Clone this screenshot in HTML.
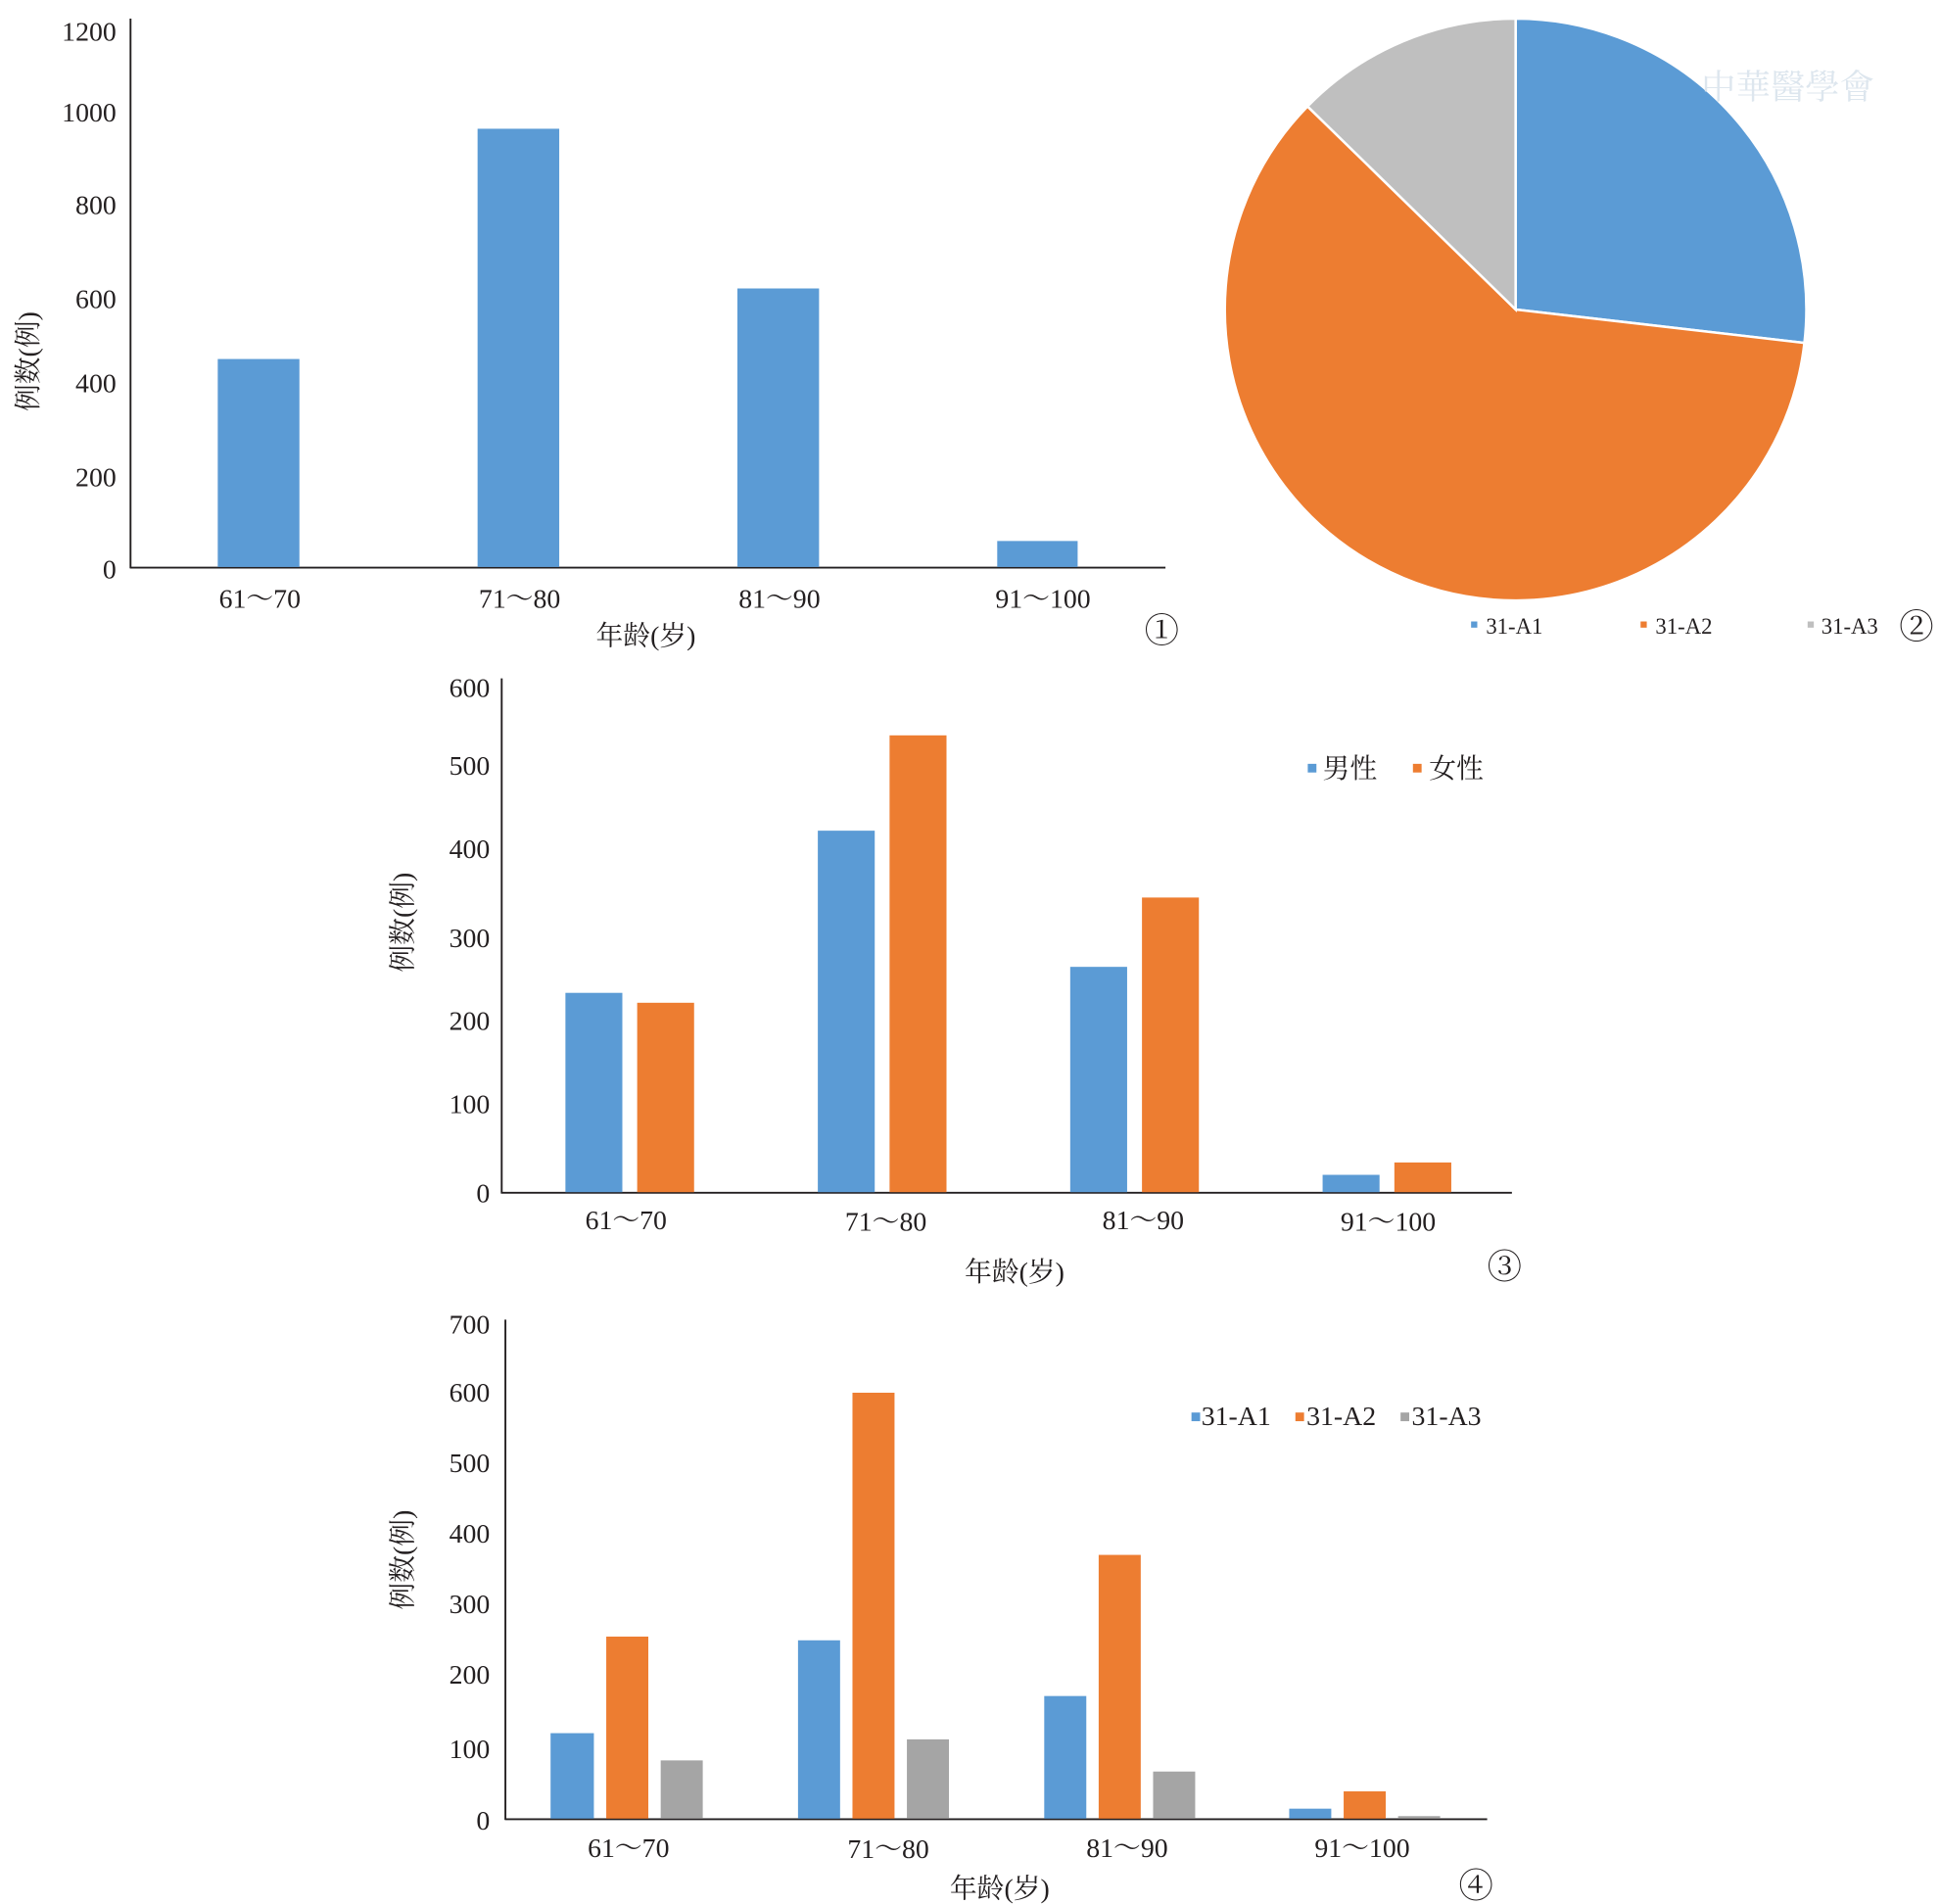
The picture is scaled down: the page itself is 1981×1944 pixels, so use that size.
<!DOCTYPE html>
<html><head><meta charset="utf-8"><style>
html,body{margin:0;padding:0;background:#fff;}
svg{display:block;}
text{font-family:"Liberation Serif","Noto Serif CJK SC",serif;fill:#231f20;}
</style></head><body>
<svg width="1981" height="1944" viewBox="0 0 1568 1538" preserveAspectRatio="none" xmlns="http://www.w3.org/2000/svg">
<!-- Chart 1 -->
<g font-size="22">
<line x1="105.5" y1="15" x2="105.5" y2="459" stroke="#231f20" stroke-width="1.5"/>
<line x1="105" y1="458.5" x2="942" y2="458.5" stroke="#231f20" stroke-width="1.5"/>
<g text-anchor="end">
<text x="94" y="33">1200</text><text x="94" y="98">1000</text><text x="94" y="173">800</text>
<text x="94" y="249">600</text><text x="94" y="317">400</text><text x="94" y="393">200</text><text x="94" y="467">0</text>
</g>
<g fill="#5b9bd5">
<rect x="176" y="290" width="66" height="168"/><rect x="386" y="104" width="66" height="354"/>
<rect x="596" y="233" width="66" height="225"/><rect x="806" y="437" width="65" height="21"/>
</g>
<g text-anchor="middle">
<text x="210" y="491">61～70</text><text x="420" y="491">71～80</text><text x="630" y="491">81～90</text><text x="843" y="491">91～100</text>
<text x="522" y="521">年龄(岁)</text>
</g>
<text x="939" y="519" text-anchor="middle" font-size="28">①</text>
<text transform="translate(30,292) rotate(-90)" text-anchor="middle">例数(例)</text>
</g>
<!-- Pie -->
<g stroke="#fff" stroke-width="2">
<path d="M1225,250 L1225,15 A235,235 0 0 1 1458.4,277 Z" fill="#5b9bd5"/>
<path d="M1225,250 L1458.4,277 A235,235 0 1 1 1056.8,85.9 Z" fill="#ed7d31"/>
<path d="M1225,250 L1056.8,85.9 A235,235 0 0 1 1225,15 Z" fill="#bfbfbf"/>
</g>
<text x="1445" y="80" text-anchor="middle" font-size="28" style="fill:#dde6ee">中華醫學會</text>
<g font-size="18">
<rect x="1189" y="502" width="5" height="5" fill="#5b9bd5"/><text x="1201" y="512">31-A1</text>
<rect x="1326" y="502" width="5" height="5" fill="#ed7d31"/><text x="1338" y="512">31-A2</text>
<rect x="1461" y="502" width="5" height="5" fill="#bfbfbf"/><text x="1472" y="512">31-A3</text>
<text x="1549" y="516" text-anchor="middle" font-size="28">②</text>
</g>
<!-- Chart 3 -->
<g font-size="22">
<line x1="405.5" y1="548" x2="405.5" y2="964" stroke="#231f20" stroke-width="1.5"/>
<line x1="405" y1="963.5" x2="1222" y2="963.5" stroke="#231f20" stroke-width="1.5"/>
<g text-anchor="end">
<text x="396" y="563">600</text><text x="396" y="626">500</text><text x="396" y="693">400</text>
<text x="396" y="765">300</text><text x="396" y="832">200</text><text x="396" y="899">100</text><text x="396" y="971">0</text>
</g>
<g fill="#5b9bd5">
<rect x="457" y="802" width="46" height="161"/><rect x="661" y="671" width="46" height="292"/>
<rect x="865" y="781" width="46" height="182"/><rect x="1069" y="949" width="46" height="14"/>
</g>
<g fill="#ed7d31">
<rect x="515" y="810" width="46" height="153"/><rect x="719" y="594" width="46" height="369"/>
<rect x="923" y="725" width="46" height="238"/><rect x="1127" y="939" width="46" height="24"/>
</g>
<g text-anchor="middle">
<text x="506" y="993">61～70</text><text x="716" y="994">71～80</text><text x="924" y="993">81～90</text><text x="1122" y="994">91～100</text>
<text x="820" y="1035">年龄(岁)</text>
</g>
<text x="1216" y="1033" text-anchor="middle" font-size="28">③</text>
<text transform="translate(333,745) rotate(-90)" text-anchor="middle">例数(例)</text>
<rect x="1057" y="617" width="7" height="7" fill="#5b9bd5"/><text x="1069" y="628">男性</text>
<rect x="1142" y="617" width="7" height="7" fill="#ed7d31"/><text x="1155" y="628">女性</text>
</g>
<!-- Chart 4 -->
<g font-size="22">
<line x1="408.5" y1="1066" x2="408.5" y2="1470" stroke="#231f20" stroke-width="1.5"/>
<line x1="408" y1="1469.5" x2="1202" y2="1469.5" stroke="#231f20" stroke-width="1.5"/>
<g text-anchor="end">
<text x="396" y="1077">700</text><text x="396" y="1132">600</text><text x="396" y="1189">500</text>
<text x="396" y="1246">400</text><text x="396" y="1303">300</text><text x="396" y="1360">200</text>
<text x="396" y="1420">100</text><text x="396" y="1478">0</text>
</g>
<g fill="#5b9bd5">
<rect x="445" y="1400" width="35" height="69"/><rect x="645" y="1325" width="34" height="144"/>
<rect x="844" y="1370" width="34" height="99"/><rect x="1042" y="1461" width="34" height="8"/>
</g>
<g fill="#ed7d31">
<rect x="490" y="1322" width="34" height="147"/><rect x="689" y="1125" width="34" height="344"/>
<rect x="888" y="1256" width="34" height="213"/><rect x="1086" y="1447" width="34" height="22"/>
</g>
<g fill="#a5a5a5">
<rect x="534" y="1422" width="34" height="47"/><rect x="733" y="1405" width="34" height="64"/>
<rect x="932" y="1431" width="34" height="38"/><rect x="1130" y="1467" width="34" height="2"/>
</g>
<g text-anchor="middle">
<text x="508" y="1500">61～70</text><text x="718" y="1501">71～80</text><text x="911" y="1500">81～90</text><text x="1101" y="1500">91～100</text>
<text x="808" y="1533">年龄(岁)</text>
</g>
<text x="1193" y="1533" text-anchor="middle" font-size="28">④</text>
<text transform="translate(333,1260) rotate(-90)" text-anchor="middle">例数(例)</text>
<rect x="963" y="1141" width="7" height="7" fill="#5b9bd5"/><text x="971" y="1151">31-A1</text>
<rect x="1047" y="1141" width="7" height="7" fill="#ed7d31"/><text x="1056" y="1151">31-A2</text>
<rect x="1132" y="1141" width="7" height="7" fill="#a5a5a5"/><text x="1141" y="1151">31-A3</text>
</g>
</svg>
</body></html>
